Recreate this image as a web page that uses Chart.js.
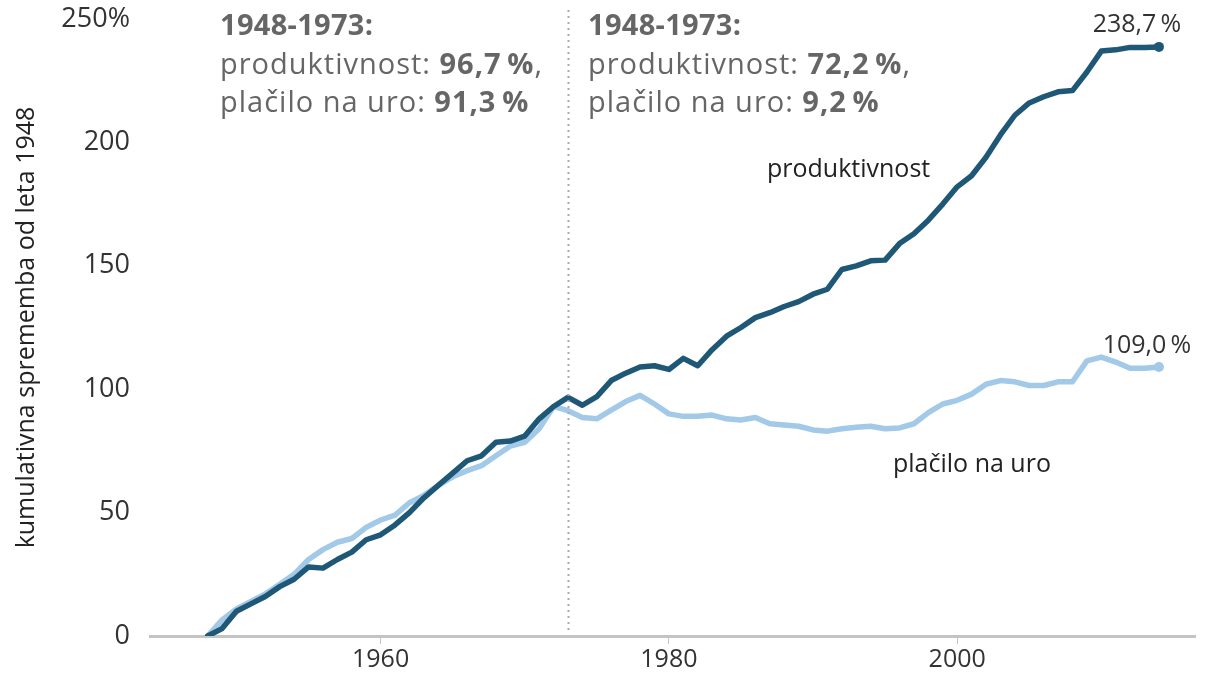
<!DOCTYPE html>
<html>
<head>
<meta charset="utf-8">
<script src="https://cdn.jsdelivr.net/npm/chart.js@4"></script>
<style>
  html, body { margin: 0; padding: 0; background: #fff; }
  #wrap { width: 1216px; height: 680px; }
</style>
</head>
<body>
<div id="wrap"><canvas id="myChart"></canvas></div>
<script>
// data
const years = [];
for (let y = 1948; y <= 2014; y++) years.push(y);

const productivity = [
  0, 3, 10, 13, 16, 20, 23, 28, 27.5, 31,
  34, 39, 41, 45, 50, 56, 61, 66, 71, 73,
  78.5, 79, 81, 88, 93, 96.7, 93.5, 97, 103.5, 106.5,
  109, 109.5, 108, 112.5, 109.5, 116, 121.5, 125, 129, 131,
  133.5, 135.5, 138.5, 140.5, 148.5, 150, 152, 152.3, 159, 163,
  168.5, 175, 182, 186.5, 194, 203, 211, 216, 218.5, 220.5,
  221, 228.5, 237, 237.5, 238.5, 238.5, 238.7
];
const hourlyPay = [
  0, 6.5, 11, 14, 17, 21, 25, 31, 35, 38,
  39.5, 44, 47, 49, 54, 57, 61, 64.5, 67, 69,
  73, 77, 78.5, 84, 93, 91.3, 88.5, 88, 91.5, 95,
  97.5, 94, 90, 89, 89, 89.5, 88, 87.5, 88.5, 86,
  85.5, 85, 83.5, 83, 84, 84.6, 85, 84, 84.3, 86,
  90.5, 94, 95.5, 98, 102, 103.5, 103, 101.5, 101.5, 103,
  103, 111.5, 113, 111, 108.5, 108.5, 109
];
const xTicks = [1960, 1980, 2000];
const yTicks = [0, 50, 100, 150, 200, 250];
const splitYear = 1973;

const darkBlue = '#1f5876';
const lightBlue = '#a2c9e7';
const fontFam = '"Open Sans", sans-serif';

const toPoints = vals => vals.map((v, i) => ({ x: years[i], y: v }));
const lastOnly = r => ctx => ctx.dataIndex === years.length - 1 ? r : 0;

// text blocks + dotted divider
const notes = {
  id: 'notes',
  afterDraw(chart) {
    const ctx = chart.ctx;
    const xs = chart.scales.x, ys = chart.scales.y;
    const area = chart.chartArea;

    // dotted line at 1973
    const xd = Math.round(xs.getPixelForValue(splitYear)) + 0.5;
    ctx.save();
    ctx.strokeStyle = '#aaaaaa';
    ctx.lineWidth = 2;
    ctx.setLineDash([2, 4]);
    ctx.beginPath();
    ctx.moveTo(xd, 10);
    ctx.lineTo(xd, area.bottom - 4);
    ctx.stroke();
    ctx.restore();

    const line = (parts, x, y, size, color, spacing) => {
      let cx = x;
      ctx.letterSpacing = (spacing || 0) + 'px';
      parts.forEach(p => {
        ctx.font = (p[1] ? 'bold ' : '') + size + 'px ' + fontFam;
        ctx.fillStyle = color;
        ctx.fillText(p[0], cx, y);
        cx += ctx.measureText(p[0]).width;
      });
      ctx.letterSpacing = '0px';
    };

    ctx.save();
    ctx.textBaseline = 'alphabetic';
    ctx.textAlign = 'left';
    const grey = '#666666';
    line([['1948-1973:', true]], 220, 35, 29, grey, 0.3);
    line([['produktivnost: ', false], ['96,7\u2009%', true], [',', false]], 220, 74, 29, grey, 1);
    line([['plačilo na uro: ', false], ['91,3\u2009%', true]], 220, 112, 29, grey, 1);

    line([['1948-1973:', true]], 588, 35, 29, grey, 0.3);
    line([['produktivnost: ', false], ['72,2\u2009%', true], [',', false]], 588, 74, 29, grey, 1);
    line([['plačilo na uro: ', false], ['9,2\u2009%', true]], 588, 112, 29, grey, 1);

    // series labels
    ctx.textBaseline = 'middle';
    line([['produktivnost', false]], 767, 170, 25, '#222222', 0);
    line([['plačilo na uro', false]], 893, 465, 25, '#222222', 0);

    // end values
    ctx.textAlign = 'center';
    const last = years.length - 1;
    const xe = xs.getPixelForValue(years[last]);
    ctx.font = '25px ' + fontFam;
    ctx.fillStyle = '#333333';
    ctx.fillText('238,7\u2009%', xe - 22, ys.getPixelForValue(productivity[last]) - 22);
    ctx.fillText('109,0\u2009%', xe - 12, ys.getPixelForValue(hourlyPay[last]) - 21);
    ctx.restore();
  }
};

const config = {
  type: 'line',
  data: {
    datasets: [{
      label: 'produktivnost',
      data: toPoints(productivity),
      borderColor: darkBlue,
      backgroundColor: darkBlue,
      borderWidth: 5.5,
      pointRadius: lastOnly(5),
      pointBorderWidth: 0,
      tension: 0,
      borderJoinStyle: 'round',
      borderCapStyle: 'round'
    }, {
      label: 'plačilo na uro',
      data: toPoints(hourlyPay),
      borderColor: lightBlue,
      backgroundColor: lightBlue,
      borderWidth: 5.5,
      pointRadius: lastOnly(5),
      pointBorderWidth: 0,
      tension: 0,
      borderJoinStyle: 'round',
      borderCapStyle: 'round'
    }]
  },
  options: {
    responsive: true,
    maintainAspectRatio: false,
    animation: false,
    layout: { padding: { left: 8, top: 0, right: 21, bottom: 0 } },
    plugins: {
      legend: { display: false },
      tooltip: { enabled: false }
    },
    scales: {
      x: {
        type: 'linear',
        min: 1944,
        max: 2016.5,
        afterBuildTicks: s => { s.ticks = xTicks.map(v => ({ value: v })); },
        afterFit: s => { s.height = 44; },
        grid: {
          drawOnChartArea: false,
          drawTicks: true,
          tickLength: 8,
          color: '#c4c4c4',
          lineWidth: 1
        },
        border: { display: true, color: '#c4c4c4', width: 3 },
        ticks: {
          color: '#333333',
          font: { family: fontFam, size: 25 },
          padding: 1,
          callback: v => String(v)
        }
      },
      y: {
        min: 0,
        max: 250,
        afterBuildTicks: s => { s.ticks = yTicks.map(v => ({ value: v })); },
        afterFit: s => {
          s.width = 142;
          s.paddingTop = 19;
          s.paddingBottom = 0;
        },
        grid: { display: false, drawTicks: false },
        border: { display: false },
        ticks: {
          color: '#333333',
          font: { family: fontFam, size: 27 },
          padding: 20,
          callback: v => v === 250 ? '250%' : String(v)
        },
        title: {
          display: true,
          text: 'kumulativna sprememba od leta 1948',
          color: '#222222',
          font: { family: fontFam, size: 25 },
          padding: { top: 4, bottom: 4 }
        }
      }
    }
  },
  plugins: [notes]
};

const myChart = new Chart(document.getElementById('myChart'), config);
</script>
</body>
</html>
